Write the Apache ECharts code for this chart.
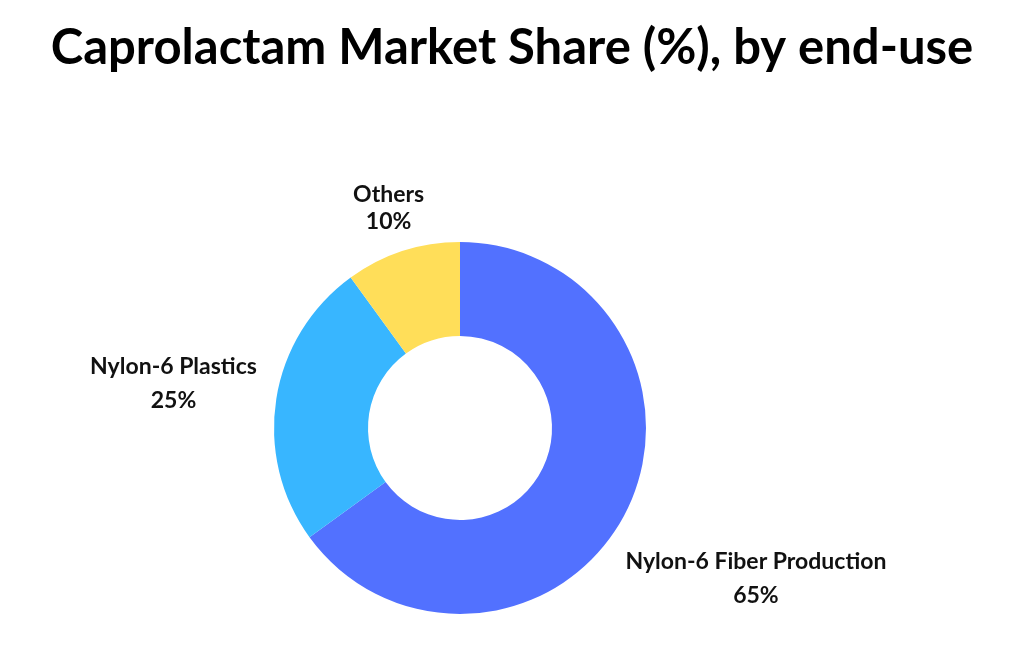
<!DOCTYPE html>
<html>
<head>
<meta charset="utf-8">
<title>Caprolactam Market Share</title>
<script src="https://cdn.jsdelivr.net/npm/echarts@6/dist/echarts.min.js"></script>
<style>
  html, body { margin: 0; padding: 0; background: #fff; }
  #chart { width: 1024px; height: 661px; }
</style>
</head>
<body>
<div id="chart"></div>
<script>
// data
const categories = ["Nylon-6 Fiber Production", "Nylon-6 Plastics", "Others"];
const shares = [65, 25, 10];
const colors = ["#5271ff", "#38b6ff", "#ffde59"];

// label placement per slice (length of hidden leader line)
const labelLen = [145, 96, 45];
const labelLen2 = [0, 3, 0];
const labelGap = [1, 5, 0];
const labelLineHeight = [34, 34, 27];

const chart = echarts.init(document.getElementById("chart"));

chart.setOption({
  animation: false,
  title: {
    text: "Caprolactam Market Share (%), by end-use",
    left: "center",
    top: 19,
    textStyle: {
      fontFamily: "Lato",
      fontWeight: "bold",
      fontSize: 49,
      color: "#000"
    }
  },
  series: [
    {
      type: "pie",
      center: [460, 428],
      radius: [92, 186],
      startAngle: 90,
      clockwise: true,
      avoidLabelOverlap: false,
      label: {
        show: true,
        position: "outside",
        formatter: "{b}\n{c}%",
        fontFamily: "Lato",
        fontWeight: "bold",
        fontSize: 23,
        color: "#111"
      },
      labelLine: { show: false },
      labelLayout: function() {
        return { align: "center" };
      },
      data: categories.map(function(name, i) {
        return {
          name: name,
          value: shares[i],
          itemStyle: { color: colors[i] },
          label: { lineHeight: labelLineHeight[i], distanceToLabelLine: labelGap[i] },
          labelLine: { length: labelLen[i], length2: labelLen2[i] }
        };
      })
    }
  ]
});
</script>
</body>
</html>
